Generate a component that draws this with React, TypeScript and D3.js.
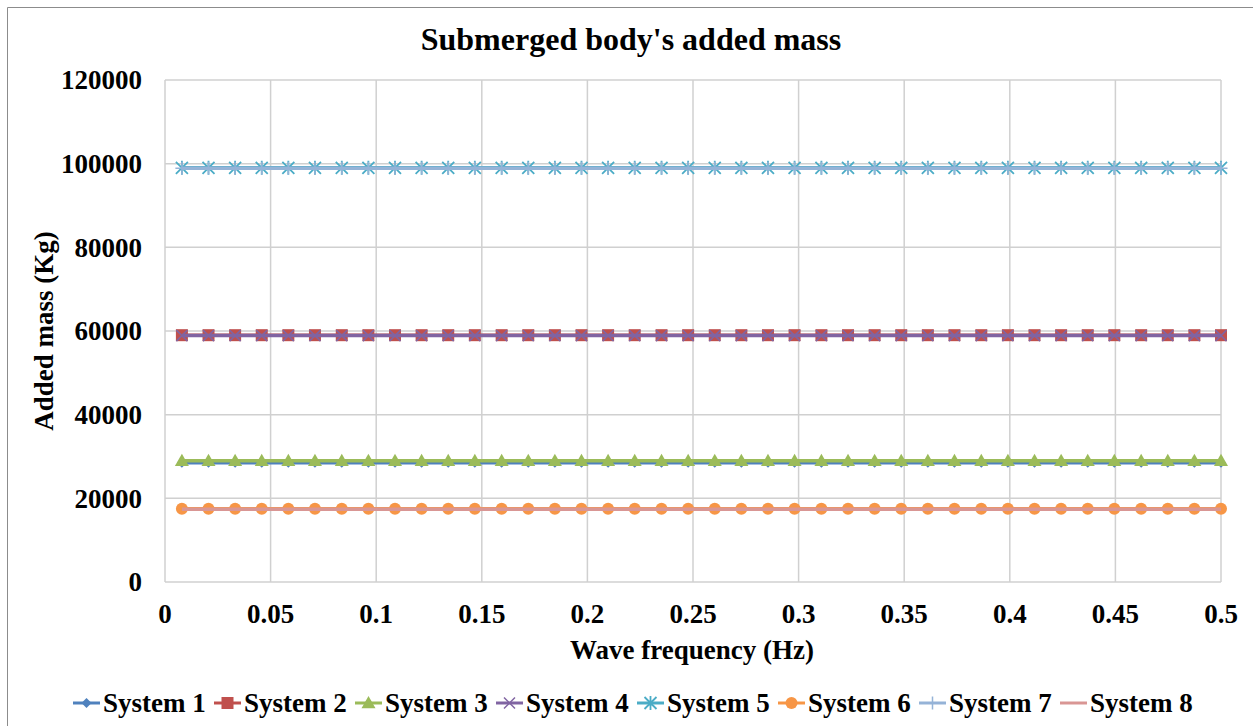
import React from "react";
import * as d3 from "d3";

const freqs = [
  0.008, 0.0206, 0.0332, 0.0458, 0.0584, 0.071, 0.0837, 0.0963, 0.1089, 0.1215,
  0.1341, 0.1467, 0.1594, 0.172, 0.1846, 0.1972, 0.2098, 0.2224, 0.2351, 0.2477,
  0.2603, 0.2729, 0.2855, 0.2981, 0.3108, 0.3234, 0.336, 0.3486, 0.3612, 0.3738,
  0.3865, 0.3991, 0.4117, 0.4243, 0.4369, 0.4495, 0.4622, 0.4748, 0.4874, 0.5,
];

const systemNames = ["System 1", "System 2", "System 3", "System 4", "System 5", "System 6", "System 7", "System 8"];
// added mass per system (constant over frequency)
const addedMass = [28500, 59000, 29000, 58900, 99000, 17500, 98900, 17400];
const colors = ["#4f81bd", "#c0504d", "#9bbb59", "#8064a2", "#4bacc6", "#f79646", "#95b3d7", "#d99694"];
const markers = ["diamond", "square", "triangle", "x", "asterisk", "circle", "plus", "none"];

const xTicks = [0, 0.05, 0.1, 0.15, 0.2, 0.25, 0.3, 0.35, 0.4, 0.45, 0.5];
const yTicks = [0, 20000, 40000, 60000, 80000, 100000, 120000];

const W = 1253;
const H = 726;
const margin = { left: 165, top: 80, right: 32, bottom: 144 };
const font = "'Liberation Serif', 'Times New Roman', serif";

function Marker({ kind, x, y, color }: { kind: string; x: number; y: number; color: string }) {
  if (kind === "diamond") {
    const r = 5;
    return <path d={`M${x},${y - r}L${x + r},${y}L${x},${y + r}L${x - r},${y}Z`} fill={color} />;
  }
  if (kind === "square") {
    const r = 6;
    return <rect x={x - r} y={y - r} width={r * 2} height={r * 2} fill={color} />;
  }
  if (kind === "triangle") {
    const r = 7;
    return <path d={`M${x},${y - r}L${x + r},${y + r * 0.75}L${x - r},${y + r * 0.75}Z`} fill={color} />;
  }
  if (kind === "circle") {
    return <circle cx={x} cy={y} r={6} fill={color} />;
  }
  if (kind === "x") {
    const r = 5.5;
    return (
      <path d={`M${x - r},${y - r}L${x + r},${y + r}M${x - r},${y + r}L${x + r},${y - r}`} stroke={color} strokeWidth={1.5} />
    );
  }
  if (kind === "asterisk") {
    const r = 6;
    return (
      <path
        d={`M${x - r},${y - r}L${x + r},${y + r}M${x - r},${y + r}L${x + r},${y - r}M${x},${y - r - 1}L${x},${y + r + 1}`}
        stroke={color}
        strokeWidth={1.8}
      />
    );
  }
  if (kind === "plus") {
    const r = 6.5;
    return <path d={`M${x - r},${y}L${x + r},${y}M${x},${y - r}L${x},${y + r}`} stroke={color} strokeWidth={1.5} />;
  }
  return null;
}

export default function App() {
  const x = d3.scaleLinear().domain([0, 0.5]).range([margin.left, W - margin.right]);
  const y = d3.scaleLinear().domain([0, 120000]).range([H - margin.bottom, margin.top]);
  const line = d3
    .line<number>()
    .x((d, i) => x(freqs[i]))
    .y((d) => y(d));

  const legendX = d3.scaleLinear().domain([0, 1]).range([73, 214]);

  return (
    <svg width={W} height={H} style={{ position: "absolute", left: 0, top: 0 }} fontFamily={font}>
      <rect x={0} y={0} width={W} height={H} fill="#fff" />
      <path d={`M7.5,${H}V7.5H${W}`} fill="none" stroke="#8c8c8c" strokeWidth={1} />
      <text x={631} y={50} textAnchor="middle" fontSize={32} fontWeight="bold">
        Submerged body's added mass
      </text>

      {/* grid */}
      {yTicks.map((t) => (
        <line key={"gy" + t} x1={x(0)} x2={x(0.5)} y1={y(t)} y2={y(t)} stroke="#d0d0d0" strokeWidth={1.5} />
      ))}
      {xTicks.map((t) => (
        <line key={"gx" + t} x1={x(t)} x2={x(t)} y1={y(0)} y2={y(120000)} stroke="#d0d0d0" strokeWidth={1.5} />
      ))}

      {/* tick labels */}
      {yTicks.map((t) => (
        <text key={"ty" + t} x={142} y={y(t)} dy="0.35em" textAnchor="end" fontSize={27} fontWeight="bold">
          {t}
        </text>
      ))}
      {xTicks.map((t) => (
        <text key={"tx" + t} x={x(t)} y={623} textAnchor="middle" fontSize={27} fontWeight="bold">
          {t}
        </text>
      ))}

      <text x={692} y={659} textAnchor="middle" fontSize={27} fontWeight="bold">
        Wave frequency (Hz)
      </text>
      <text
        transform={`translate(53, ${(y(0) + y(120000)) / 2}) rotate(-90)`}
        textAnchor="middle"
        fontSize={27}
        fontWeight="bold"
      >
        Added mass (Kg)
      </text>

      {/* series */}
      {systemNames.map((name, s) => {
        const vals = freqs.map(() => addedMass[s]);
        return (
          <g key={name}>
            <path d={line(vals) || ""} fill="none" stroke={colors[s]} strokeWidth={3.5} />
            {vals.map((v, i) => (
              <Marker key={i} kind={markers[s]} x={x(freqs[i])} y={y(v)} color={colors[s]} />
            ))}
          </g>
        );
      })}

      {/* legend */}
      {systemNames.map((name, s) => {
        const lx = legendX(s);
        const ly = 703;
        return (
          <g key={"lg" + name}>
            <line x1={lx} x2={lx + 27} y1={ly} y2={ly} stroke={colors[s]} strokeWidth={3} />
            <Marker kind={markers[s]} x={lx + 13.5} y={ly} color={colors[s]} />
            <text x={lx + 30} y={ly + 9} fontSize={27} fontWeight="bold">
              {name}
            </text>
          </g>
        );
      })}
    </svg>
  );
}
